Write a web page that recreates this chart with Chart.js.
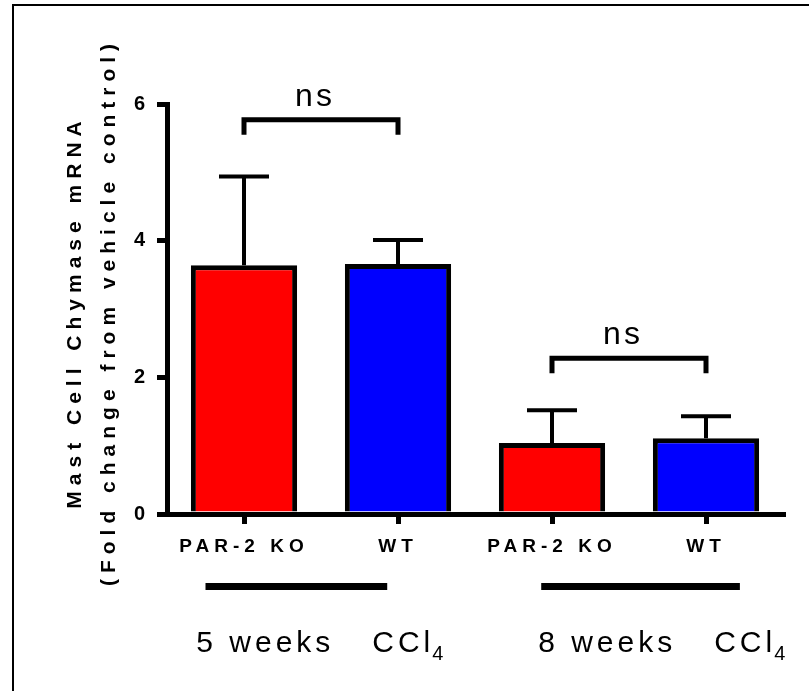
<!DOCTYPE html>
<html>
<head>
<meta charset="utf-8">
<script src="https://cdn.jsdelivr.net/npm/chart.js@4.4.0/dist/chart.umd.min.js"></script>
<style>
  body { margin: 0; background: #fff; }
  #wrap { width: 809px; height: 691px; }
</style>
</head>
<body>
<div id="wrap"><canvas id="myChart"></canvas></div>
<script>
// data
var groups = ['PAR-2 KO', 'WT', 'PAR-2 KO', 'WT'];
var means = [3.64, 3.66, 1.04, 1.11];
var sems = [1.30, 0.35, 0.48, 0.32];
var yTicks = [0, 2, 4, 6];
var weekLabels = ['5 weeks', '8 weeks'];
var comparisons = [[0, 1, 5.77], [2, 3, 2.28]];   // bar a, bar b, bracket height
var yTitle = ['Mast Cell Chymase mRNA', '(Fold change from vehicle control)'];
var barColors = ['#FF0000', '#0000FF', '#FF0000', '#0000FF'];

var FONT = "'Liberation Sans', Arial, sans-serif";

var extras = {
  id: 'extras',
  beforeDraw: function(chart) {
    // spaced-out lettering like the original
    chart.ctx.letterSpacing = '5px';
  },
  afterDatasetsDraw: function(chart) {
    var ctx = chart.ctx, x = chart.scales.x, y = chart.scales.y;
    ctx.save();
    ctx.strokeStyle = '#000';
    ctx.lineWidth = 4;
    means.forEach(function(m, i) {
      var px = x.getPixelForValue(i);
      var base = y.getPixelForValue(m);
      var top = y.getPixelForValue(m + sems[i]);
      ctx.beginPath();
      ctx.moveTo(px, base);
      ctx.lineTo(px, top);
      ctx.moveTo(px - 25, top);
      ctx.lineTo(px + 25, top);
      ctx.stroke();
    });
    ctx.restore();
  },
  afterDraw: function(chart) {
    var ctx = chart.ctx, x = chart.scales.x, y = chart.scales.y;
    ctx.save();
    ctx.fillStyle = '#000';
    ctx.strokeStyle = '#000';

    // ns brackets
    ctx.lineWidth = 5;
    ctx.lineJoin = 'miter';
    comparisons.forEach(function(c) {
      var xa = x.getPixelForValue(c[0]), xb = x.getPixelForValue(c[1]);
      var yb = y.getPixelForValue(c[2]);
      ctx.beginPath();
      ctx.moveTo(xa, yb + 15);
      ctx.lineTo(xa, yb);
      ctx.lineTo(xb, yb);
      ctx.lineTo(xb, yb + 15);
      ctx.stroke();
      ctx.font = '32px ' + FONT;
      ctx.letterSpacing = '3px';
      ctx.textAlign = 'center';
      ctx.textBaseline = 'alphabetic';
      ctx.fillText('ns', (xa + xb) / 2 - 6, yb - 14);
    });

    // group underlines
    ctx.fillRect(x.getPixelForValue(-0.25), 583, x.getPixelForValue(0.93) - x.getPixelForValue(-0.25), 7);
    ctx.fillRect(x.getPixelForValue(1.93), 583, x.getPixelForValue(3.22) - x.getPixelForValue(1.93), 7);

    // group labels with CCl4
    ctx.textAlign = 'left';
    ctx.textBaseline = 'alphabetic';
    [-0.31, 1.91].forEach(function(pos, i) {
      var left = x.getPixelForValue(pos);
      ctx.font = '30px ' + FONT;
      ctx.letterSpacing = '4px';
      ctx.fillText(weekLabels[i], left, 652);
      var cx = left + 176;
      ctx.fillText('CCl', cx, 652);
      var w = ctx.measureText('CCl').width;
      ctx.font = '20px ' + FONT;
      ctx.fillText('4', cx + w - 2, 660);
    });

    // y axis title
    ctx.font = 'bold 21px ' + FONT;
    ctx.letterSpacing = '6px';
    ctx.textAlign = 'center';
    var mid = (chart.chartArea.top + chart.chartArea.bottom) / 2 + 3;
    [81, 115].forEach(function(bx, i) {
      ctx.save();
      ctx.translate(bx, mid);
      ctx.rotate(-Math.PI / 2);
      ctx.fillText(yTitle[i], 0, 0);
      ctx.restore();
    });

    // frame (top and left edges)
    ctx.fillRect(12, 4, 2, 687);
    ctx.fillRect(12, 4, 797, 2);
    ctx.restore();
  }
};

var ctx = document.getElementById('myChart');
var myBarChart = new Chart(ctx, {
  type: 'bar',
  data: {
    labels: groups,
    datasets: [{
      data: means,
      backgroundColor: barColors,
      borderColor: '#000',
      borderWidth: 5,
      barPercentage: 0.69,
      categoryPercentage: 1
    }]
  },
  options: {
    responsive: true,
    maintainAspectRatio: false,
    animation: false,
    layout: { padding: { left: 0, right: 26, top: 104, bottom: 0 } },
    plugins: {
      legend: { display: false },
      tooltip: { enabled: false }
    },
    scales: {
      x: {
        offset: true,
        grid: { display: true, drawOnChartArea: false, drawTicks: true, tickLength: 10, lineWidth: 5, color: '#000', offset: false },
        border: { display: true, width: 5, color: '#000' },
        ticks: { color: '#000', font: { family: FONT, size: 19, weight: 'bold' }, padding: 11, autoSkip: false, maxRotation: 0 },
        afterFit: function(scale) { scale.height = 177; }
      },
      y: {
        min: 0,
        max: 6,
        afterBuildTicks: function(scale) {
          scale.ticks = yTicks.map(function(v) { return { value: v }; });
        },
        grid: { display: true, drawOnChartArea: false, drawTicks: true, tickLength: 10, lineWidth: 5, color: '#000' },
        border: { display: true, width: 5, color: '#000' },
        ticks: { color: '#000', font: { family: FONT, size: 20, weight: 'bold' }, padding: 7 },
        afterFit: function(scale) { scale.width = 167; }
      }
    }
  },
  plugins: [extras]
});
</script>
</body>
</html>
